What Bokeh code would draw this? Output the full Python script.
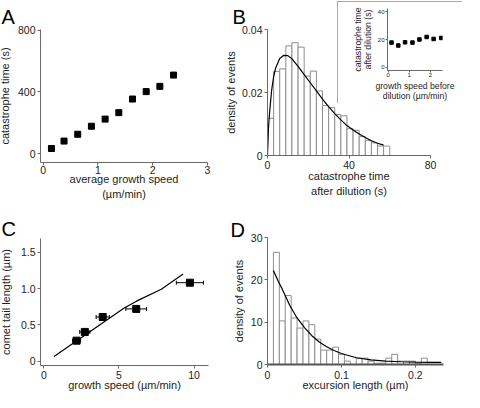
from bokeh.plotting import figure
from bokeh.layouts import column
from bokeh.models import FixedTicker, Range1d, Whisker, TeeHead, ColumnDataSource, NumeralTickFormatter
from bokeh.embed import file_html
from bokeh.resources import INLINE

# ---------------- data ----------------
# Panel A
A_SPEED = [0.15, 0.38, 0.63, 0.88, 1.13, 1.38, 1.63, 1.88, 2.13, 2.38]
A_CAT_TIME = [34, 82, 126, 178, 224, 266, 354, 402, 436, 509]
A_XTICKS = [0, 1, 2, 3]
A_YTICKS = [0, 400, 800]

# Panel B histogram + fitted curve
B_EDGES = [0, 3, 6, 9, 12, 15, 18, 21, 24, 27, 30, 33, 36, 39, 42, 45, 48, 51, 54, 57, 60]
B_DENSITY = [0.0118, 0.0267, 0.0275, 0.0348, 0.0358, 0.0344, 0.0252, 0.0268, 0.0205, 0.0159,
             0.0152, 0.0130, 0.0126, 0.0085, 0.0080, 0.0060, 0.0048, 0.0040, 0.0030, 0.0030]
B_FIT_X = [0, 0.5, 1, 2, 3, 4, 6, 8, 10, 12, 15, 18, 21, 24, 27, 30, 33, 36, 39, 42, 45, 48, 51, 54, 57]
B_FIT_Y = [0, 0.009, 0.0135, 0.0205, 0.025, 0.0278, 0.0308, 0.0318, 0.0317, 0.0307, 0.0283, 0.0257,
           0.0231, 0.0205, 0.0179, 0.0155, 0.0133, 0.0113, 0.0095, 0.0081, 0.0068, 0.0057, 0.0047,
           0.0039, 0.0033]
B_XTICKS = [0, 40, 80]
B_YTICKS = [0, 0.02, 0.04]

# Panel B inset
IN_SPEED = [0.16, 0.48, 0.80, 1.15, 1.48, 1.82, 2.15, 2.51]
IN_TIME = [17.8, 15.7, 18.0, 17.8, 20.0, 21.8, 20.4, 21.1]
IN_XTICKS = [0, 1, 2]
IN_YTICKS = [0, 20, 40]

# Panel C
C_SPEED = [2.18, 2.73, 3.92, 6.15, 9.72]
C_TAIL = [0.284, 0.404, 0.609, 0.72, 1.08]
C_SPEED_ERR = [0.27, 0.34, 0.44, 0.69, 0.90]
C_MODEL_X = [0.68, 5.35, 6.2, 7.82, 9.27]
C_MODEL_Y = [0.067, 0.733, 0.83, 0.99, 1.2]
C_XTICKS = [0, 5, 10]
C_YTICKS = [0, 0.5, 1.0, 1.5]

# Panel D histogram + fitted curve
D_EDGES = [0.008, 0.016, 0.024, 0.032, 0.040, 0.048, 0.056, 0.064, 0.072, 0.080, 0.088, 0.096,
           0.104, 0.112, 0.120, 0.128, 0.136, 0.144, 0.152, 0.160, 0.168, 0.176, 0.184, 0.192,
           0.200, 0.208, 0.216]
D_DENSITY = [26.5, 10.3, 16.3, 11.0, 8.6, 10.3, 9.4, 6.0, 3.4, 3.4, 4.1, 2.4, 0.8, 0.0,
             1.5, 1.5, 0.8, 0.3, 0.3, 1.5, 2.4, 0.8, 0.8, 0.8, 0.3, 1.5]
D_FIT_X = [0.008, 0.015, 0.02, 0.03, 0.04, 0.05, 0.06, 0.07, 0.08, 0.09, 0.10, 0.12, 0.14,
           0.16, 0.18, 0.20, 0.22, 0.235]
D_FIT_Y = [22.2, 19.5, 17.8, 14.0, 11.0, 8.7, 6.8, 5.3, 4.2, 3.3, 2.6, 1.6, 1.1, 0.8, 0.65,
           0.55, 0.5, 0.5]
D_XTICKS = [0, 0.1, 0.2]
D_YTICKS = [0, 10, 20, 30]

# ---------------- styling ----------------
FONT = "Liberation Sans"
AXC = "#6a6a6a"
TXT = "#1e1e1e"
BARC = "#8e8e8e"
BL, BR, BT, BB = 50, 20, 40, 60   # generous canvas borders around each plot frame


def make_panel(frame, xr, yr, letter, letter_offset, letter_standoff):
    """frame = (left, top, width, height) of the plot area on the page"""
    fl, ft, fw, fh = frame
    p = figure(width=BL + fw + BR, height=BT + fh + BB,
               x_range=Range1d(*xr), y_range=Range1d(*yr),
               toolbar_location=None, output_backend="svg",
               min_border_left=BL, min_border_right=BR,
               min_border_top=BT, min_border_bottom=BB)
    p.outline_line_color = None
    p.grid.visible = False
    p.background_fill_color = "white"
    p.border_fill_color = None
    p.title.text = letter
    p.title.align = "left"
    p.title.offset = letter_offset
    p.title.standoff = letter_standoff
    p.title.text_font = FONT
    p.title.text_font_size = "20px"
    p.title.text_font_style = "normal"
    p.title.text_color = "black"
    p.styles = {"position": "absolute", "left": f"{fl - BL}px", "top": f"{ft - BT}px"}
    return p


def style_axes(p, xticks, yticks, xlabel, ylabel, tick_size="10.5px", label_size="11px",
               tick_out=3, yls=(2, 3), xls=(2, 0), line_h=1.3):
    for ax in p.axis:
        ax.axis_line_color = AXC
        ax.major_tick_line_color = AXC
        ax.major_tick_out = tick_out
        ax.major_tick_in = 0
        ax.minor_tick_line_color = None
        ax.major_label_text_font = FONT
        ax.major_label_text_font_size = tick_size
        ax.major_label_text_color = TXT
        ax.axis_label_text_font = FONT
        ax.axis_label_text_font_size = label_size
        ax.axis_label_text_font_style = "normal"
        ax.axis_label_text_color = TXT
        ax.axis_label_text_line_height = line_h
        ax.major_label_overrides = {0: "0"}
    p.xaxis.ticker = FixedTicker(ticks=xticks)
    p.yaxis.ticker = FixedTicker(ticks=yticks)
    p.xaxis.axis_label = xlabel
    p.yaxis.axis_label = ylabel
    p.yaxis.major_label_standoff = yls[0]
    p.yaxis.axis_label_standoff = yls[1]
    p.xaxis.major_label_standoff = xls[0]
    p.xaxis.axis_label_standoff = xls[1]


# ---------------- Panel A ----------------
pa = make_panel((40, 29, 167, 133), (-0.05, 3.0), (-56.7, 804), "A", -39, 4)
style_axes(pa, A_XTICKS, A_YTICKS, "average growth speed\n(µm/min)", "catastrophe time (s)",
           yls=(2, 4), xls=(0, -4))
pa.scatter(A_SPEED, A_CAT_TIME, marker="square", size=6, color="black")

# ---------------- Panel B ----------------
pb = make_panel((267, 29, 163, 126), (0, 80), (0, 0.04), "B", -35, 3)
style_axes(pb, B_XTICKS, B_YTICKS, "catastrophe time\nafter dilution (s)", "density of events",
           yls=(2, 2), xls=(2, -2))
pb.yaxis.formatter = NumeralTickFormatter(format="0.00")
pb.quad(left=B_EDGES[:-1], right=B_EDGES[1:], bottom=0, top=B_DENSITY,
        fill_color="white", line_color=BARC)
pb.line(B_FIT_X, B_FIT_Y, color="black", line_width=1.2)

# ---------------- Panel C ----------------
pc = make_panel((40, 238, 168, 127), (-0.22, 10.96), (-0.057, 1.687), "C", -39, -3)
style_axes(pc, C_XTICKS, C_YTICKS, "growth speed (µm/min)", "comet tail length (µm)",
           yls=(2, 6), xls=(2, -3))
pc.yaxis.formatter = NumeralTickFormatter(format="0.0")
src = ColumnDataSource(dict(
    base=C_TAIL,
    lower=[x - e for x, e in zip(C_SPEED, C_SPEED_ERR)],
    upper=[x + e for x, e in zip(C_SPEED, C_SPEED_ERR)],
))
wh = Whisker(source=src, base="base", lower="lower", upper="upper", dimension="width",
             line_color="black", level="underlay",
             upper_head=TeeHead(size=4, line_color="black"),
             lower_head=TeeHead(size=4, line_color="black"))
pc.add_layout(wh)
pc.line(C_MODEL_X, C_MODEL_Y, color="black", line_width=1.2)
pc.scatter(C_SPEED, C_TAIL, marker="square", size=7, color="black")

# ---------------- Panel D ----------------
pd_ = make_panel((267, 237, 176, 127), (0, 0.238), (0, 30), "D", -37, -6)
style_axes(pd_, D_XTICKS, D_YTICKS, "excursion length (µm)", "density of events",
           yls=(2, 3), xls=(3, -3))
pd_.xaxis.formatter = NumeralTickFormatter(format="0.0")
pd_.xaxis.axis_line_width = 2
pd_.xaxis.axis_line_color = "#555555"
pd_.quad(left=D_EDGES[:-1], right=D_EDGES[1:], bottom=0, top=D_DENSITY,
         fill_color="white", line_color=BARC)
pd_.line(D_FIT_X, D_FIT_Y, color="black", line_width=1.2)

# ---------------- Inset of panel B ----------------
pi = figure(width=125, height=102, x_range=Range1d(-0.03, 2.57), y_range=Range1d(-2.2, 42.2),
            toolbar_location=None, output_backend="svg", title_location=None,
            min_border_left=35, min_border_right=2, min_border_top=7, min_border_bottom=29)
pi.outline_line_color = None
pi.grid.visible = False
pi.background_fill_color = "white"
pi.border_fill_color = "white"
style_axes(pi, IN_XTICKS, IN_YTICKS, "growth speed before\ndilution (µm/min)",
           "catastrophe time\nafter dilution (s)", tick_size="6px", label_size="8.7px",
           tick_out=2, yls=(1, 2), xls=(0, 1), line_h=1.0)
pi.scatter(IN_SPEED, IN_TIME, marker="square", size=3.5, color="black")
pi.styles = {"position": "absolute", "left": "337px", "top": "1px",
             "width": "125px", "height": "102px",
             "outline": "2px solid #8c8c8c", "outline-offset": "-2px"}

root = column(pa, pb, pc, pd_, pi, width=464, height=392,
              styles={"position": "relative", "overflow": "hidden"})

open("out.html", "w", encoding="utf-8").write(file_html(root, INLINE))
